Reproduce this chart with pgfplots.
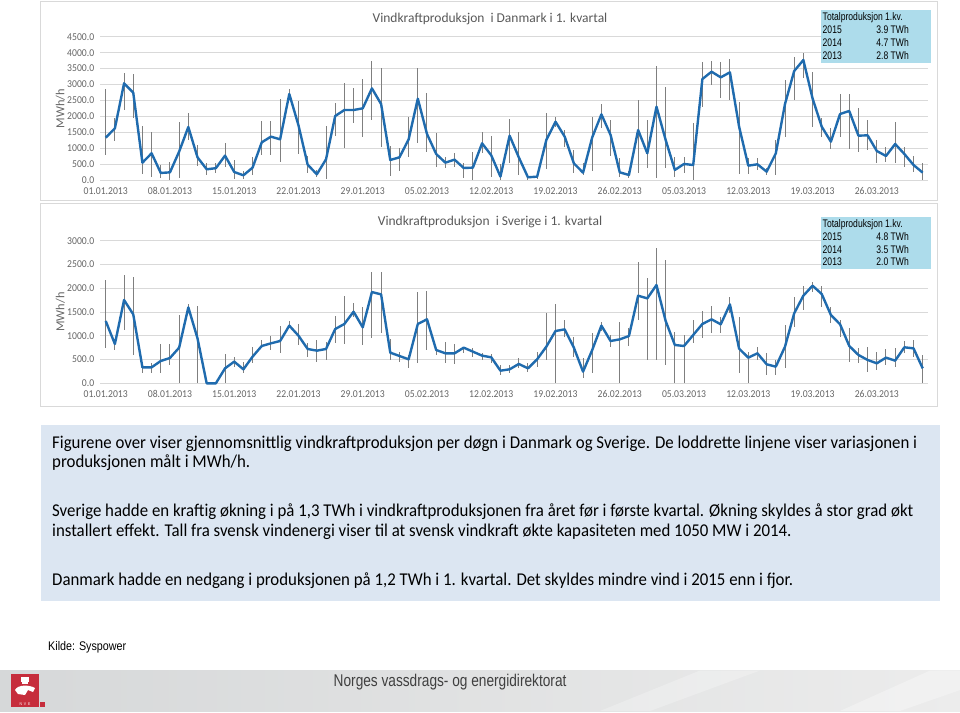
\documentclass[border=0pt]{standalone}
\usepackage{fontspec}
\usepackage{pgfplots}
\pgfplotsset{compat=1.18}
\usepackage{pgfplotstable}
\setmainfont{Carlito}
\newfontfamily\calfont{Carlito}
\newfontfamily\tickfont[FakeStretch=0.92]{Carlito}
\newfontfamily\boxfont[FakeStretch=0.935]{Carlito}
\newfontfamily\arifont[FakeStretch=0.86]{Liberation Sans}
\newfontfamily\footfont[FakeStretch=0.805]{Liberation Sans}
\newfontfamily\narrow[FakeStretch=0.78]{Liberation Sans}

\definecolor{linblue}{HTML}{1F6BAE}
\definecolor{barg}{HTML}{7F7F7F}
\definecolor{gridg}{HTML}{D9D9D9}
\definecolor{tickg}{HTML}{666666}
\definecolor{titleg}{HTML}{595959}
\definecolor{legblue}{HTML}{ADDCEB}
\definecolor{boxblue}{HTML}{DCE6F2}
\definecolor{nvered}{HTML}{C62D3C}
\definecolor{footl}{HTML}{D6D8D9}
\definecolor{footr}{HTML}{ECECEC}

% day, daily mean, high, low (MWh/h)
\pgfplotstableread{
d v hi lo
0 1336 2850 793
1 1629 1942 1232
2 3038 3372 2203
3 2746 3330 1942
4 553 1702 198
5 846 1503 115
6 230 480 63
7 250 564 10
8 900 1837 84
9 1670 2098 1263
10 720 1100 450
11 345 532 167
12 380 530 220
13 773 1159 428
14 260 637 42
15 157 292 42
16 397 741 167
17 1190 1858 793
18 1368 1869 793
19 1284 2537 585
20 2704 2850 2620
21 1723 2495 825
22 490 760 220
23 188 324 115
24 658 1702 42
25 2015 2412 1389
26 2203 3059 1002
27 2203 2881 1806
28 2255 3184 1347
29 2881 3748 1890
30 2390 3529 1054
31 637 1086 136
32 720 1000 300
33 1284 1973 741
34 2558 3518 1180
35 1451 2746 898
36 825 1472 428
37 553 741 376
38 647 866 428
39 386 532 63
40 397 898 10
41 1159 1524 846
42 783 1389 115
43 115 512 10
44 1399 1910 553
45 720 1524 167
46 94 167 10
47 115 200 50
48 1263 2098 345
49 1837 1994 1681
50 1368 1576 1054
51 532 950 220
52 240 532 167
53 1347 1994 303
54 2067 2391 1629
55 1420 1890 762
56 250 689 115
57 167 300 60
58 1576 2516 220
59 846 1890 376
60 2307 3581 63
61 1263 2913 376
62 324 741 115
63 512 741 220
64 480 1806 10
65 3174 3717 2286
66 3403 3738 2975
67 3226 3717 2568
68 3383 3811 2516
69 1681 2464 198
70 459 689 198
71 501 689 324
72 271 376 167
73 846 1263 167
74 2391 3142 1368
75 3424 3873 2516
76 3769 3978 3195
77 2568 3403 1681
78 1681 1942 1368
79 1211 1629 971
80 2078 2694 1368
81 2172 2704 971
82 1399 2255 898
83 1409 1890 950
84 919 1263 532
85 762 1054 585
86 1138 1837 532
87 825 1054 428
88 480 762 271
89 240 532 10
}\dk

\pgfplotstableread{
d v hi lo
0 1311 2173 736
1 827 876 701
2 1752 2278 1121
3 1451 2243 596
4 336 420 210
5 336 420 210
6 470 820 224
7 533 820 386
8 750 1437 0
9 1598 1668 1472
10 946 1626 0
11 0 0 0
12 0 0 0
13 315 610 0
14 456 561 350
15 294 456 210
16 561 771 420
17 785 911 736
18 841 995 701
19 890 1206 631
20 1213 1311 1156
21 1002 1248 806
22 722 841 561
23 687 911 456
24 722 876 491
25 1142 1423 855
26 1248 1836 827
27 1507 1682 1402
28 1177 1612 806
29 1920 2334 946
30 1871 2348 1065
31 645 932 491
32 575 666 442
33 505 596 315
34 1248 1927 421
35 1346 1948 701
36 701 750 596
37 631 876 421
38 631 820 407
39 750 771 631
40 666 736 561
41 582 645 491
42 547 617 421
43 266 385 175
44 294 385 210
45 407 526 315
46 315 421 245
47 505 666 350
48 771 1472 491
49 1100 1668 0
50 1135 1332 981
51 750 981 561
52 245 540 105
53 701 1051 224
54 1213 1283 1100
55 890 1016 771
56 925 1283 0
57 995 1156 785
58 1843 2544 1332
59 1787 2222 491
60 2068 2839 491
61 1311 2593 385
62 806 1072 0
63 785 1016 0
64 1016 1332 841
65 1248 1528 946
66 1346 1626 1051
67 1241 1402 1051
68 1661 1808 1472
69 729 1402 210
70 540 666 0
71 631 771 491
72 400 631 175
73 350 491 175
74 771 1227 315
75 1472 1808 1191
76 1843 2047 1542
77 2054 2138 1927
78 1878 2047 1612
79 1437 1612 1262
80 1241 1332 981
81 785 1156 456
82 596 736 421
83 491 757 245
84 421 666 280
85 540 715 385
86 477 750 350
87 757 897 631
88 736 911 561
89 315 596 0
}\se

\pgfplotsset{
  nve/.style={
    anchor=south west, scale only axis,
    width=828pt,
    xmin=-0.6, xmax=89.6, ymin=0,
    axis line style={draw=none},
    tick style={draw=none},
    ymajorgrids, major grid style={gridg, line width=0.8pt},
    xtick={0,7,...,84},
    xticklabels={01.01.2013,08.01.2013,15.01.2013,22.01.2013,29.01.2013,05.02.2013,12.02.2013,19.02.2013,26.02.2013,05.03.2013,12.03.2013,19.03.2013,26.03.2013},
    ticklabel style={font=\tickfont\fontsize{10.5}{12}\selectfont, text=tickg},
    xticklabel style={anchor=base, yshift=-14.2pt},
    yticklabel style={/pgf/number format/fixed, /pgf/number format/fixed zerofill,
      /pgf/number format/precision=1, /pgf/number format/1000 sep={},
      /pgf/number format/assume math mode=true, xshift=-2.5pt},
    scaled y ticks=false,
    ylabel={MWh/h},
    ylabel style={font=\calfont\fontsize{12.3}{14}\selectfont, text=tickg,
      at={(axis description cs:-0.048,0.5)}, anchor=center},
    clip=false,
  },
  hl/.style={draw=none, forget plot,
    error bars/.cd, y dir=both, y explicit,
    error bar style={barg, line width=1pt}, error mark=none},
  mean/.style={linblue, line width=2.4pt, line join=round, no marks},
}

\begin{document}
\begin{tikzpicture}
\begin{scope}[x=1pt,y=-1pt]
\path[use as bounding box, fill=white] (0,0) rectangle (960,712);
\draw[gridg, line width=0.8pt] (40.5,1.5) rectangle (937.5,200.5);
\draw[gridg, line width=0.8pt] (40.5,203.5) rectangle (937.5,406.5);
\end{scope}

\begin{axis}[nve, at={(100.2pt,-180.3pt)}, height=143.6pt,
  ymax=4500, ytick={0,500,...,4500}]
\addplot[hl] table[x=d, y=v, y error plus expr=\thisrow{hi}-\thisrow{v},
  y error minus expr=\thisrow{v}-\thisrow{lo}] {\dk};
\addplot[mean] table[x=d, y=v] {\dk};
\end{axis}

\begin{axis}[nve, at={(100.2pt,-383.3pt)}, height=142.6pt,
  ymax=3000, ytick={0,500,...,3000}]
\addplot[hl] table[x=d, y=v, y error plus expr=\thisrow{hi}-\thisrow{v},
  y error minus expr=\thisrow{v}-\thisrow{lo}] {\se};
\addplot[mean] table[x=d, y=v] {\se};
\end{axis}

\begin{scope}[x=1pt,y=-1pt]
% titles
\node[anchor=base, font=\calfont\fontsize{13.5}{16}\selectfont, text=titleg, inner sep=0]
  at (490,22.7) {Vindkraftproduksjon\ \ i Danmark i 1. kvartal};
\node[anchor=base, font=\calfont\fontsize{13.5}{16}\selectfont, text=titleg, inner sep=0]
  at (490,225) {Vindkraftproduksjon\ \ i Sverige i 1. kvartal};
% total boxes
\foreach \top/\a/\b/\c in {10/3.9/4.7/2.8, 216.5/4.8/3.5/2.0}{
  \fill[legblue] (820.7,\top) rectangle (931,\top+52.5);
  \begin{scope}[every node/.style={inner sep=0, font=\narrow\fontsize{11}{12}\selectfont, text=black}]
  \node[anchor=base west] at (822.5,\top+10.5) {Totalproduksjon 1.kv.};
  \node[anchor=base west] at (822.5,\top+23.8) {2015};
  \node[anchor=base west] at (822.5,\top+36.5) {2014};
  \node[anchor=base west] at (822.5,\top+49) {2013};
  \node[anchor=base east] at (909,\top+23.8) {\a\ TWh};
  \node[anchor=base east] at (909,\top+36.5) {\b\ TWh};
  \node[anchor=base east] at (909,\top+49) {\c\ TWh};
  \end{scope}
}
% text box
\fill[boxblue] (40.7,425) rectangle (940,600.7);
\begin{scope}[every node/.style={inner sep=0, anchor=base west, font=\boxfont\fontsize{18}{20}\selectfont, text=black}]
\node at (52,448.3) {Figurene over viser gjennomsnittlig vindkraftproduksjon per døgn i Danmark og Sverige. De loddrette linjene viser variasjonen i};
\node at (52,467.5) {produksjonen målt i MWh/h.};
\node at (52,516) {Sverige hadde en kraftig økning i på 1,3 TWh i vindkraftproduksjonen fra året før i første kvartal. Økning skyldes å stor grad økt};
\node at (52,536) {installert effekt. Tall fra svensk vindenergi viser til at svensk vindkraft økte kapasiteten med 1050 MW i 2014.};
\node at (52,585.5) {Danmark hadde en nedgang i produksjonen på 1,2 TWh i 1. kvartal. Det skyldes mindre vind i 2015 enn i fjor.};
\end{scope}
\node[inner sep=0, anchor=base west, font=\arifont\fontsize{12.5}{14}\selectfont] at (48,650.7) {Kilde: Syspower};
% footer
\shade[left color=footl, right color=footr] (0,670.5) rectangle (960,711);
\fill[white, opacity=0.25] (600,711) -- (700,670.5) -- (760,670.5) -- (650,711) -- cycle;
\fill[white, opacity=0.3] (840,711) -- (930,670.5) -- (960,670.5) -- (960,690) -- (900,711) -- cycle;
\fill[nvered] (11,674) rectangle (39.3,707);
\fill[nvered] (39.5,701.5) rectangle (45,707);
\fill[white] (21,677) rectangle (29,682);
\fill[white] (22,682) rectangle (28,684);
\fill[white] (15,690) .. controls (18,684) and (30,685) .. (35,688) -- (33,692) -- (28,690) -- (25,695) -- (18,694) -- cycle;
\node[inner sep=0, anchor=base, font=\arifont\fontsize{4}{5}\selectfont, text=white] at (25,705.5) {N\ \ V\ \ E};
\node[inner sep=0, anchor=base west, font=\footfont\fontsize{17}{20}\selectfont, text=black!75] at (333.5,686.7) {Norges vassdrags- og energidirektorat};
\end{scope}
\end{tikzpicture}
\end{document}
